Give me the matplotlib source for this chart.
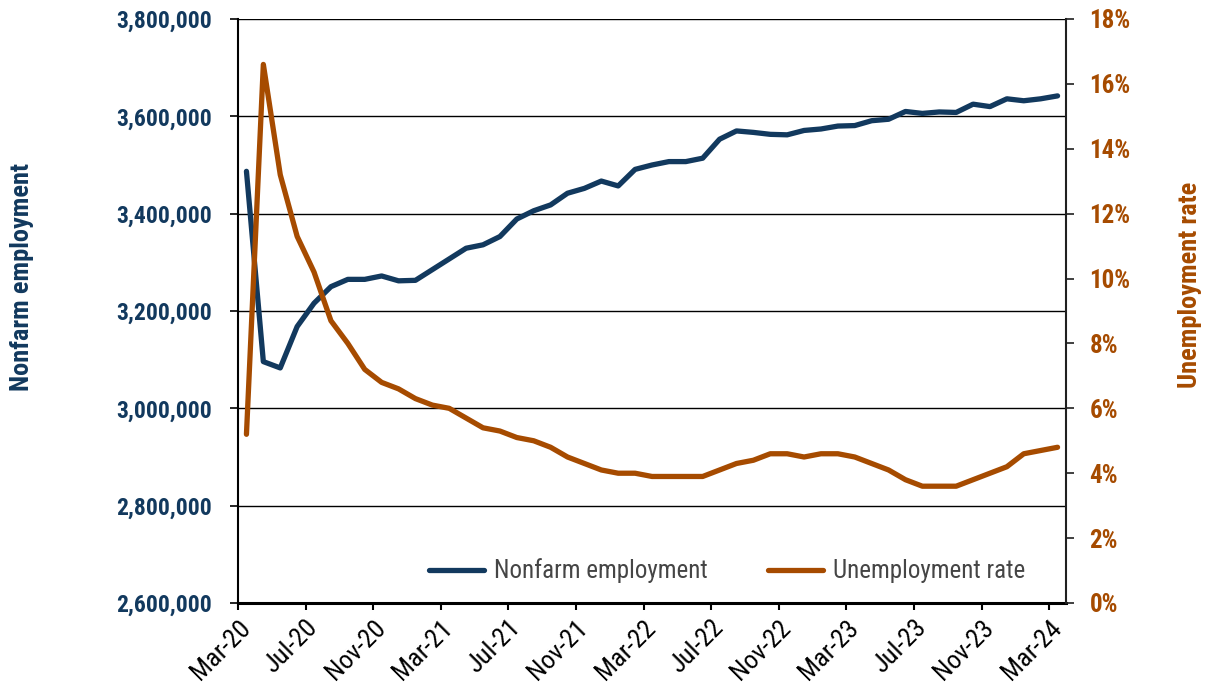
import matplotlib
matplotlib.use("Agg")
import matplotlib.pyplot as plt
from matplotlib.ticker import FuncFormatter, FixedLocator
from matplotlib import font_manager

# ---------------- data ----------------
months = ['Mar-20', 'Apr-20', 'May-20', 'Jun-20', 'Jul-20', 'Aug-20', 'Sep-20', 'Oct-20', 'Nov-20', 'Dec-20',
          'Jan-21', 'Feb-21', 'Mar-21', 'Apr-21', 'May-21', 'Jun-21', 'Jul-21', 'Aug-21', 'Sep-21', 'Oct-21', 'Nov-21', 'Dec-21',
          'Jan-22', 'Feb-22', 'Mar-22', 'Apr-22', 'May-22', 'Jun-22', 'Jul-22', 'Aug-22', 'Sep-22', 'Oct-22', 'Nov-22', 'Dec-22',
          'Jan-23', 'Feb-23', 'Mar-23', 'Apr-23', 'May-23', 'Jun-23', 'Jul-23', 'Aug-23', 'Sep-23', 'Oct-23', 'Nov-23', 'Dec-23',
          'Jan-24', 'Feb-24', 'Mar-24']

nonfarm_employment = [3487000, 3096000, 3083000, 3168000, 3216000, 3250000, 3265000, 3265000, 3272000, 3262000,
                      3263000, 3285000, 3307000, 3329000, 3336000, 3353000, 3389000, 3406000, 3418000, 3442000, 3452000, 3467000,
                      3457000, 3491000, 3500000, 3507000, 3507000, 3514000, 3553000, 3570000, 3567000, 3563000, 3562000, 3571000,
                      3574000, 3580000, 3581000, 3591000, 3594000, 3610000, 3606000, 3609000, 3608000, 3625000, 3620000, 3636000,
                      3632000, 3636000, 3642000]

unemployment_rate = [5.2, 16.6, 13.2, 11.3, 10.2, 8.7, 8.0, 7.2, 6.8, 6.6,
                     6.3, 6.1, 6.0, 5.7, 5.4, 5.3, 5.1, 5.0, 4.8, 4.5, 4.3, 4.1,
                     4.0, 4.0, 3.9, 3.9, 3.9, 3.9, 4.1, 4.3, 4.4, 4.6, 4.6, 4.5,
                     4.6, 4.6, 4.5, 4.3, 4.1, 3.8, 3.6, 3.6, 3.6, 3.8, 4.0, 4.2,
                     4.6, 4.7, 4.8]

tick_labels = ['Mar-20', 'Jul-20', 'Nov-20', 'Mar-21', 'Jul-21', 'Nov-21', 'Mar-22',
               'Jul-22', 'Nov-22', 'Mar-23', 'Jul-23', 'Nov-23', 'Mar-24']

left_ticks = [2600000, 2800000, 3000000, 3200000, 3400000, 3600000, 3800000]
right_ticks = [0, 2, 4, 6, 8, 10, 12, 14, 16, 18]

# ---------------- style ----------------
NAVY = '#12395E'
ORANGE = '#A64B00'
GRAYTXT = '#454545'

installed = {f.name for f in font_manager.fontManager.ttflist}
prefs = ['Liberation Sans Narrow', 'Arial Narrow', 'Roboto Condensed', 'PT Sans Narrow',
         'Archivo Narrow', 'Asap Condensed', 'Liberation Sans']
narrow = next((p for p in prefs if p in installed), 'DejaVu Sans')
plt.rcParams['font.family'] = [narrow, 'DejaVu Sans']

W, H = 1208, 691
fig = plt.figure(figsize=(W / 100, H / 100), dpi=100)
L, R, T, B = 238, 1066, 19, 603
ax = fig.add_axes([L / W, 1 - B / H, (R - L) / W, (B - T) / H])
ax2 = ax.twinx()

x = list(range(len(months)))
ln1, = ax.plot(x, nonfarm_employment, color=NAVY, lw=3.8, solid_capstyle='round',
               solid_joinstyle='round', label='Nonfarm employment', zorder=3)
ln2, = ax2.plot(x, unemployment_rate, color=ORANGE, lw=3.8, solid_capstyle='round',
                solid_joinstyle='round', label='Unemployment rate', zorder=3)

ax.set_xlim(-0.5, len(months) - 0.5)
ax.set_ylim(2600000, 3800000)
ax2.set_ylim(0, 18)

ax.yaxis.set_major_locator(FixedLocator(left_ticks))
ax.yaxis.set_major_formatter(FuncFormatter(lambda v, p: f'{int(v):,}'))
ax2.yaxis.set_major_locator(FixedLocator(right_ticks))
ax2.yaxis.set_major_formatter(FuncFormatter(lambda v, p: f'{int(v)}%'))

ax.grid(axis='y', color='#000000', lw=1.0, zorder=0)
ax.set_axisbelow(True)

# x ticks: marks at category boundaries, labels at category centres
label_pos = [months.index(m) for m in tick_labels]
ax.xaxis.set_major_locator(FixedLocator([p - 0.5 for p in label_pos]))
ax.xaxis.set_major_formatter(FuncFormatter(lambda v, p: ''))
ax.set_xticks(label_pos, minor=True)
ax.set_xticklabels(tick_labels, minor=True, rotation=45, ha='right', va='center',
                   rotation_mode='anchor', fontsize=19, color='#000000')
ax.tick_params(axis='x', which='major', direction='out', length=5, width=1.5, color='#000000')
ax.tick_params(axis='x', which='minor', length=0, pad=15)

ax.tick_params(axis='y', direction='out', length=6, width=1.2, color='#000000', pad=13,
               labelsize=17, labelcolor=NAVY)
for t in ax.get_yticklabels():
    t.set_fontweight('bold')
ax2.tick_params(axis='y', direction='out', length=6, width=1.2, color='#202020', pad=11,
                labelsize=18, labelcolor=ORANGE)
for t in ax2.get_yticklabels():
    t.set_fontweight('bold')

for a in (ax, ax2):
    a.spines['top'].set_visible(False)
ax.spines['left'].set_linewidth(1.5)
ax.spines['left'].set_color('#000000')
ax.spines['bottom'].set_linewidth(2.2)
ax.spines['bottom'].set_color('#000000')
ax2.spines['right'].set_linewidth(1.5)
ax2.spines['right'].set_color('#202020')
ax.spines['right'].set_visible(False)
ax2.spines['left'].set_visible(False)
ax2.spines['bottom'].set_visible(False)

fig.text(22 / W, 1 - 277 / H, 'Nonfarm employment', rotation=90, ha='center', va='center',
         fontsize=19, fontweight='bold', color=NAVY)
fig.text(1190 / W, 1 - 285 / H, 'Unemployment rate', rotation=90, ha='center', va='center',
         fontsize=19, fontweight='bold', color=ORANGE)

leg = ax2.legend(handles=[ln1, ln2], loc='center', bbox_to_anchor=(0.591, 0.055), ncol=2,
                 frameon=False, fontsize=18, handlelength=2.2, handletextpad=0.4,
                 columnspacing=2.4, borderaxespad=0)
for t in leg.get_texts():
    t.set_color(GRAYTXT)

fig.savefig('out.png', dpi=100)
